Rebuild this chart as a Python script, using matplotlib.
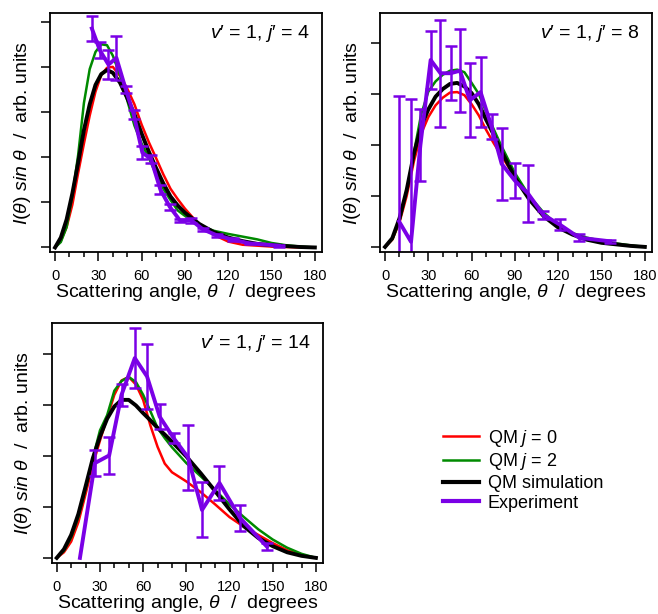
import numpy as np
import matplotlib
matplotlib.use("Agg")
import matplotlib.pyplot as plt
from matplotlib.lines import Line2D

plt.rcParams["font.family"] = ["Liberation Sans", "DejaVu Sans"]
plt.rcParams["mathtext.fontset"] = "custom"
plt.rcParams["mathtext.rm"] = "Liberation Sans"
plt.rcParams["mathtext.it"] = "Liberation Sans:italic"
plt.rcParams["mathtext.bf"] = "Liberation Sans:bold"

# --- v'=1, j'=4 ---
theta_a = [0, 4, 8, 12, 16, 20, 24, 28, 32, 36, 40, 45, 50, 55, 60, 65, 70, 75, 80, 85,
           90, 100, 110, 120, 130, 140, 150, 160, 170, 180]
red_a = [0, 0.15, 0.45, 0.95, 1.65, 2.3, 2.92, 3.45, 3.82, 3.98, 4.0, 3.8, 3.52, 3.17, 2.72,
         2.33, 1.98, 1.62, 1.3, 1.07, 0.86, 0.5, 0.28, 0.13, 0.06, 0.04, 0.02, 0.01, 0.0, 0]
green_a = [0, 0.12, 0.45, 1.15, 2.05, 3.2, 3.95, 4.33, 4.5, 4.48, 4.25, 3.82, 3.26, 2.7, 2.3,
           1.98, 1.62, 1.3, 1.05, 0.82, 0.7, 0.49, 0.37, 0.3, 0.24, 0.18, 0.1, 0.05, 0.02, 0]
black_a = [0, 0.22, 0.62, 1.2, 1.88, 2.6, 3.17, 3.6, 3.84, 3.93, 3.87, 3.65, 3.31, 2.95, 2.52,
           2.12, 1.76, 1.42, 1.13, 0.93, 0.77, 0.52, 0.34, 0.22, 0.14, 0.08, 0.05, 0.03, 0.01, 0]
exp_x_a = [25.5, 31, 37, 42.5, 49, 54.5, 60.5, 66.5, 73, 79.5, 86.5, 94.5, 102.5, 112, 123.5, 135, 155]
exp_y_a = [4.85, 4.37, 4.05, 4.2, 3.5, 2.95, 2.1, 1.96, 1.28, 0.9, 0.6, 0.6, 0.4, 0.27, 0.17, 0.09, 0.04]
exp_e_a = [0.27, 0.18, 0.32, 0.48, 0.08, 0.1, 0.14, 0.08, 0.1, 0.06, 0.04, 0.05, 0.04, 0.03, 0.03, 0.02, 0.02]

# --- v'=1, j'=8 ---
theta_b = [0, 5, 10, 15, 20, 25, 30, 35, 40, 45, 50, 55, 60, 65, 70, 75, 80, 90, 100, 110,
           120, 130, 140, 150, 160, 170, 180]
red_b = [0, 0.14, 0.48, 1.0, 1.68, 2.22, 2.55, 2.78, 2.93, 3.03, 3.04, 2.98, 2.8, 2.58, 2.3,
         2.05, 1.82, 1.37, 0.96, 0.63, 0.4, 0.25, 0.15, 0.09, 0.05, 0.02, 0]
green_b = [0, 0.15, 0.5, 1.1, 1.85, 2.6, 3.05, 3.25, 3.38, 3.46, 3.48, 3.43, 3.22, 3.0, 2.65,
           2.33, 2.02, 1.45, 1.0, 0.67, 0.42, 0.27, 0.18, 0.12, 0.07, 0.03, 0]
black_b = [0, 0.17, 0.56, 1.12, 1.83, 2.37, 2.7, 2.95, 3.1, 3.2, 3.22, 3.15, 3.02, 2.8, 2.5,
           2.22, 1.92, 1.36, 0.93, 0.6, 0.38, 0.24, 0.14, 0.08, 0.05, 0.02, 0]
exp_x_b = [9.7, 18, 24.5, 31.6, 38.4, 45.4, 51.9, 58.8, 66.2, 73.8, 80.8, 90, 99, 109.6, 121, 134.5, 155.8]
exp_y_b = [0.5, 0.1, 2.0, 3.67, 3.41, 3.41, 3.46, 2.88, 3.04, 2.36, 1.63, 1.3, 1.05, 0.63, 0.44, 0.18, 0.11]
exp_e_b = [2.47, 2.8, 0.7, 0.57, 1.05, 0.53, 0.82, 0.73, 0.69, 0.24, 0.7, 0.34, 0.56, 0.08, 0.1, 0.07, 0.03]

# --- v'=1, j'=14 ---
theta_c = [0, 5, 10, 15, 20, 25, 30, 35, 40, 45, 50, 55, 60, 65, 70, 75, 80, 90, 100, 110,
           120, 130, 140, 150, 160, 170, 180]
red_c = [0, 0.11, 0.32, 0.7, 1.25, 1.82, 2.3, 2.75, 3.2, 3.48, 3.55, 3.4, 3.1, 2.6, 2.18,
         1.85, 1.68, 1.5, 1.29, 1.05, 0.8, 0.61, 0.45, 0.29, 0.15, 0.05, 0]
green_c = [0, 0.14, 0.4, 0.8, 1.35, 1.95, 2.5, 2.8, 3.28, 3.47, 3.55, 3.45, 3.2, 2.88, 2.55,
           2.35, 2.17, 1.86, 1.6, 1.33, 1.05, 0.8, 0.56, 0.36, 0.2, 0.08, 0]
black_c = [0, 0.17, 0.45, 0.86, 1.4, 1.95, 2.38, 2.73, 2.97, 3.1, 3.1, 2.99, 2.84, 2.7, 2.55,
           2.42, 2.28, 1.99, 1.66, 1.31, 0.95, 0.62, 0.39, 0.23, 0.11, 0.04, 0]
exp_x_c = [16.1, 26.5, 36.4, 45, 54.2, 62.7, 71.5, 81.2, 91.2, 100.9, 113, 127.4, 146]
exp_y_c = [0.0, 1.86, 2.01, 3.2, 3.92, 3.56, 2.77, 2.35, 1.97, 0.94, 1.47, 0.78, 0.22]
exp_e_c = [np.nan, 0.26, 0.36, 0.22, 0.59, 0.64, 0.24, 0.1, 0.63, 0.54, 0.33, 0.25, 0.07]

labels = ["QM $j$ = 0", "QM $j$ = 2", "QM simulation", "Experiment"]
colors = ["#ff0000", "#008a00", "#000000", "#7a00e6"]


def draw_panel(ax, theta, red, green, black, ex, ey, ee, title, ymax, ntick):
    ax.plot(theta, red, color=colors[0], lw=1.8)
    ax.plot(theta, green, color=colors[1], lw=1.8)
    ax.plot(theta, black, color=colors[2], lw=2.8)
    ax.errorbar(ex, ey, yerr=ee, color=colors[3], lw=2.8, elinewidth=1.8,
                capsize=4, capthick=1.8)
    ax.set_xlim(-3.5, 184.8)
    ax.set_ylim(-0.1, ymax)
    ax.set_xticks(range(0, 181, 30))
    ax.set_xticks(range(0, 181, 10), minor=True)
    ax.set_yticks(range(ntick))
    ax.set_yticklabels([])
    ax.tick_params(which="major", length=6.5, width=1.1, labelsize=10.5, pad=6)
    ax.tick_params(which="minor", length=3.5, width=1.1)
    ax.tick_params(axis="y", length=6.5, width=1.1)
    for s in ax.spines.values():
        s.set_linewidth(1.3)
    ax.set_xlabel(r"Scattering angle, $\theta$  /  degrees", fontsize=14, labelpad=-1)
    ax.set_ylabel(r"$I(\theta)$ $sin$ $\theta$  /  arb. units", fontsize=14, labelpad=0)
    ax.text(0.956, 0.915, title, transform=ax.transAxes, ha="right", va="center",
            fontsize=14)


fig = plt.figure(figsize=(6.58, 6.14), dpi=100)
ax1 = fig.add_axes([0.076, 0.5896, 0.413, 0.389])
ax2 = fig.add_axes([0.5775, 0.5896, 0.413, 0.389])
ax3 = fig.add_axes([0.0786, 0.0831, 0.412, 0.391])

draw_panel(ax1, theta_a, red_a, green_a, black_a, exp_x_a, exp_y_a, exp_e_a,
           "$v$′ = 1, $j$′ = 4", 5.19, 6)
draw_panel(ax2, theta_b, red_b, green_b, black_b, exp_x_b, exp_y_b, exp_e_b,
           "$v$′ = 1, $j$′ = 8", 4.59, 5)
draw_panel(ax3, theta_c, red_c, green_c, black_c, exp_x_c, exp_y_c, exp_e_c,
           "$v$′ = 1, $j$′ = 14", 4.61, 5)

handles = [Line2D([], [], color=colors[0], lw=1.8),
           Line2D([], [], color=colors[1], lw=1.8),
           Line2D([], [], color=colors[2], lw=3),
           Line2D([], [], color=colors[3], lw=3)]
fig.legend(handles, labels, loc="center left", bbox_to_anchor=(0.673, 0.235),
           frameon=False, fontsize=13, handlelength=2.0, handletextpad=0.5,
           labelspacing=0.15, borderpad=0, borderaxespad=0)

fig.savefig("out.png", dpi=100)
